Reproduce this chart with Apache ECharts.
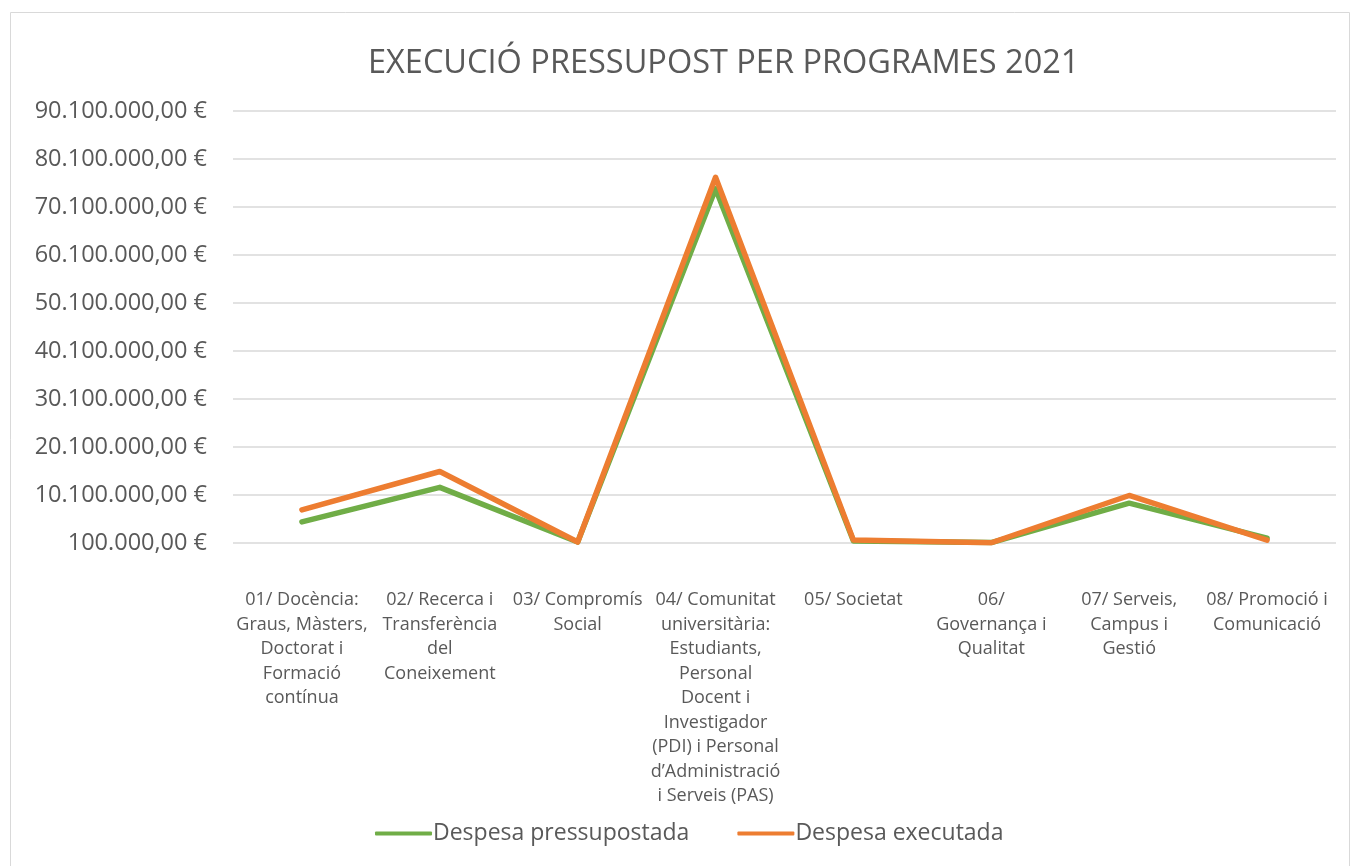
<!DOCTYPE html>
<html><head><meta charset="utf-8">
<script src="https://cdn.jsdelivr.net/npm/echarts@6/dist/echarts.min.js"></script>
<style>html,body{margin:0;padding:0;background:#fff}#c{width:1354px;height:866px}</style>
</head><body><div id="c"></div>
<script>
const categories = [
  "01/ Docència:\nGraus, Màsters,\nDoctorat i\nFormació\ncontínua",
  "02/ Recerca i\nTransferència\ndel\nConeixement",
  "03/ Compromís\nSocial",
  "04/ Comunitat\nuniversitària:\nEstudiants,\nPersonal\nDocent i\nInvestigador\n(PDI) i Personal\nd’Administració\ni Serveis (PAS)",
  "05/ Societat",
  "06/\nGovernança i\nQualitat",
  "07/ Serveis,\nCampus i\nGestió",
  "08/ Promoció i\nComunicació"
];
const despesaPressupostada = [4500000, 11700000, 300000, 73900000, 500000, 200000, 8400000, 1100000];
const despesaExecutada     = [7000000, 15000000, 300000, 76300000, 700000, 150000, 10000000, 700000];
const axisBase = 100000;      // first tick value
const axisStep = 10000000;    // tick step
const axisTop  = 90100000;    // last tick value

function fmt(v){
  const s = Math.round(v).toString().replace(/\B(?=(\d{3})+(?!\d))/g, ".");
  return s + ",00 €";
}
const shift = a => a.map(v => v - axisBase);
const gray = "#595959";
const font = "'Open Sans', 'Noto Sans', sans-serif";

const chart = echarts.init(document.getElementById('c'));
chart.setOption({
  animation:false,
  textStyle:{fontFamily:font},
  title:{text:"EXECUCIÓ PRESSUPOST PER PROGRAMES 2021", left:363, top:42,
    textStyle:{fontFamily:font, fontWeight:'normal', fontSize:32.5, color:gray}},
  graphic:[{type:'rect', shape:{x:10.5,y:12.5,width:1339,height:860}, style:{fill:null, stroke:'#d9d9d9', lineWidth:1}, silent:true}],
  legend:{bottom:16, left:370, itemWidth:57, itemHeight:4, itemGap:48,
    icon:'roundRect',
    textStyle:{fontSize:23, color:gray, fontFamily:font, padding:[0,0,0,-4]},
    data:["Despesa pressupostada","Despesa executada"]},
  grid:{left:233, right:18, top:111, bottom:323, containLabel:false},
  xAxis:{type:'category', data:categories, boundaryGap:true,
    axisLine:{show:false}, axisTick:{show:false},
    axisLabel:{interval:0, margin:45, fontSize:18, color:gray, lineHeight:24.5, fontFamily:font}},
  yAxis:{type:'value', min:0, max:axisTop-axisBase, interval:axisStep,
    axisLine:{show:false}, axisTick:{show:false},
    splitLine:{lineStyle:{color:'#d9d9d9', width:1.5}},
    axisLabel:{formatter:v=>fmt(v+axisBase), fontSize:23.5, color:gray, margin:26, fontFamily:font}},
  series:[
    {name:"Despesa pressupostada", type:'line', data:shift(despesaPressupostada), showSymbol:false,
     lineStyle:{color:'#70AD47', width:5.5, cap:'round', join:'round'}, itemStyle:{color:'#70AD47'}},
    {name:"Despesa executada", type:'line', data:shift(despesaExecutada), showSymbol:false,
     lineStyle:{color:'#ED7D31', width:5.5, cap:'round', join:'round'}, itemStyle:{color:'#ED7D31'}}
  ]
});
</script></body></html>
